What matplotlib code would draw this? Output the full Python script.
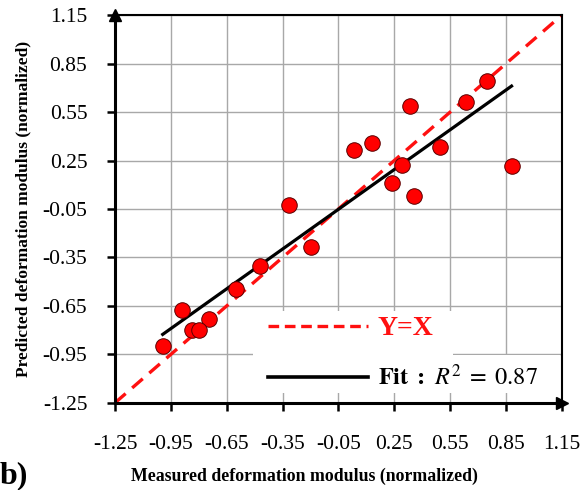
import numpy as np
import matplotlib
matplotlib.use("Agg")
import matplotlib.pyplot as plt
from matplotlib.lines import Line2D
from matplotlib.patches import Rectangle

plt.rcParams["font.family"] = ["Liberation Serif", "DejaVu Serif"]
plt.rcParams["mathtext.fontset"] = "stix"

# measured vs predicted (normalized)
measured = [0.75, 0.633, 0.333, 0.132, 0.032, 0.494, 0.29, 0.88, 0.24, 0.354,
            -0.318, -0.2, -0.472, -0.60, -0.892, -0.744, -0.839, -0.80, -0.994]
predicted = [0.74, 0.61, 0.59, 0.36, 0.315, 0.336, 0.222, 0.218, 0.113, 0.03,
             -0.023, -0.283, -0.40, -0.545, -0.674, -0.732, -0.798, -0.798, -0.901]
ticks = [-1.25, -0.95, -0.65, -0.35, -0.05, 0.25, 0.55, 0.85, 1.15]
tick_labels = ["-1.25", "-0.95", "-0.65", "-0.35", "-0.05", "0.25", "0.55", "0.85", "1.15"]
r2_text = "0.87"

x = np.array(measured)
y = np.array(predicted)
coef = np.polyfit(x, y, 1)
xf = np.array([x.min(), x.max()])

fig = plt.figure(figsize=(5.84, 4.90), dpi=100)
ax = fig.add_axes([0.197, 0.178, 0.765, 0.791])
ax.set_xlim(ticks[0], ticks[-1])
ax.set_ylim(ticks[0], ticks[-1])
ax.set_axisbelow(True)
ax.grid(True, color="#a8a8a8", lw=1.0)

# legend background (white patches hide the grid)
ax.add_patch(Rectangle((0.309, 0.026), 0.447, 0.21, transform=ax.transAxes,
                       facecolor="white", edgecolor="none", zorder=1))
ax.add_patch(Rectangle((0.756, 0.026), 0.24, 0.098, transform=ax.transAxes,
                       facecolor="white", edgecolor="none", zorder=1))

ax.plot(ticks, ticks, color="#ff1010", lw=2.4, dashes=(4.2, 2.6), zorder=2)
ax.plot(xf, np.polyval(coef, xf), color="black", lw=2.3, zorder=3)
ax.scatter(x, y, s=125, c="#ff0000", edgecolors="#5a0000", linewidths=0.7, zorder=4)

ax.set_xticks(ticks)
ax.set_yticks(ticks)
ax.set_xticklabels(tick_labels)
ax.set_yticklabels(tick_labels)
ax.tick_params(direction="out", length=6, width=1.8, labelsize=15.5, color="black")
ax.tick_params(axis="x", pad=17)
ax.tick_params(axis="y", pad=14)

for s in ["left", "bottom"]:
    ax.spines[s].set_linewidth(2.2)
for s in ["top", "right"]:
    ax.spines[s].set_linewidth(1.5)

# arrow heads on the axes
ax.plot([0], [1], marker="^", ms=9, color="black", transform=ax.transAxes, clip_on=False, zorder=6)
ax.plot([1], [0], marker=">", ms=9, color="black", transform=ax.transAxes, clip_on=False, zorder=6)

ax.set_xlabel("Measured deformation modulus (normalized)", fontsize=12.8, fontweight="bold")
ax.xaxis.set_label_coords(0.425, -0.168)
ax.set_ylabel("Predicted deformation modulus (normalized)", fontsize=12.5, fontweight="bold", labelpad=8)

handles = [Line2D([], [], color="#ff1010", lw=2.4, dashes=(3.2, 1.7)),
           Line2D([], [], color="black", lw=2.6)]
labels = ["Y=X", r"$\mathbf{Fit\ :}\ R^2\;=\;" + r2_text + "$"]
leg = ax.legend(handles, labels, loc="lower left",
                bbox_to_anchor=(0.316, 0.0), frameon=False, fontsize=17.5,
                handlelength=4.1, handletextpad=0.4, labelspacing=1.0, borderpad=0)
leg.set_zorder(5)
texts = leg.get_texts()
texts[0].set_color("#ff1010")
texts[0].set_fontweight("bold")
texts[0].set_fontsize(20)

fig.text(0.0, 0.014, "b)", fontsize=23, fontweight="bold")

fig.savefig("out.png", dpi=100)
